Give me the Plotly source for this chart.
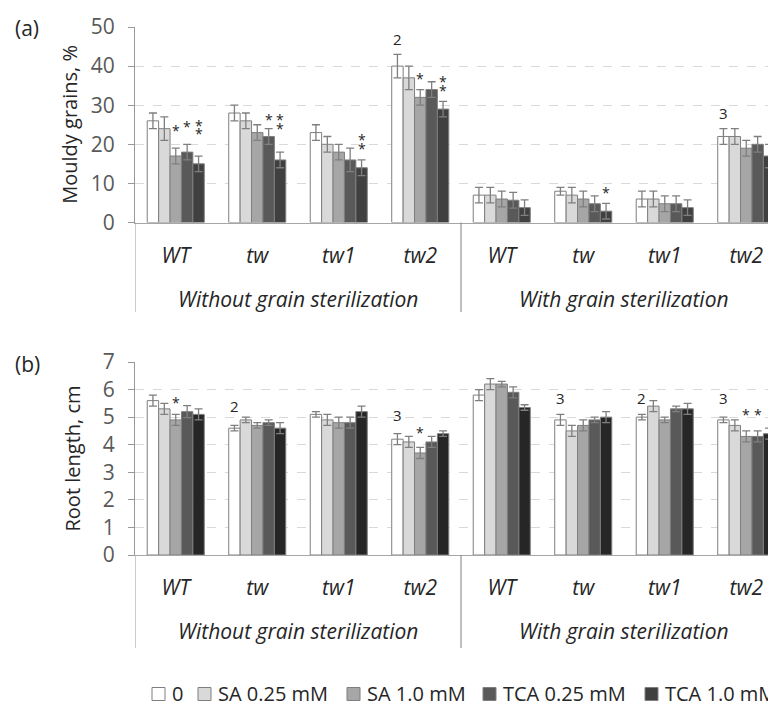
import plotly.graph_objects as go

# ---------------- data ----------------
groups = ["WT", "tw", "tw1", "tw2", "WT", "tw", "tw1", "tw2"]
group_pos = [0, 1, 2, 3, 4, 5, 6, 7]
conditions = ["Without grain sterilization", "With grain sterilization"]
condition_pos = [1.5, 5.5]
series_names = ["0", "SA 0.25 mM", "SA 1.0 mM", "TCA 0.25 mM", "TCA 1.0 mM"]

# (a) Mouldy grains, %
mould_0 = [26, 28, 23, 40, 7, 8, 6, 22]
mould_sa025 = [24, 26, 20, 37, 7, 7, 6, 22]
mould_sa10 = [17, 23, 18, 32, 6, 6, 4.8, 19]
mould_tca025 = [18, 22, 16, 34, 5.7, 4.8, 4.8, 20]
mould_tca10 = [15, 16, 14, 29, 3.8, 2.9, 3.8, 17]
mould_err_0 = [2, 2, 2, 3, 2, 1, 2, 2]
mould_err_sa025 = [3, 2, 2, 3, 2, 2, 2, 2]
mould_err_sa10 = [2, 2, 2, 2, 2, 2, 2, 2]
mould_err_tca025 = [2, 2, 3, 2, 2, 2, 2, 2]
mould_err_tca10 = [2, 2, 2, 2, 2, 2, 2, 3]

# (b) Root length, cm
root_0 = [5.6, 4.6, 5.1, 4.2, 5.8, 4.9, 5.0, 4.9]
root_sa025 = [5.3, 4.9, 4.9, 4.1, 6.2, 4.5, 5.4, 4.7]
root_sa10 = [4.9, 4.7, 4.8, 3.7, 6.2, 4.7, 4.9, 4.3]
root_tca025 = [5.2, 4.8, 4.8, 4.1, 5.9, 4.9, 5.3, 4.3]
root_tca10 = [5.1, 4.6, 5.2, 4.4, 5.35, 5.0, 5.3, 4.4]
root_err_0 = [0.2, 0.1, 0.1, 0.2, 0.2, 0.2, 0.1, 0.1]
root_err_sa025 = [0.2, 0.1, 0.2, 0.2, 0.2, 0.2, 0.2, 0.2]
root_err_sa10 = [0.2, 0.1, 0.2, 0.2, 0.1, 0.2, 0.1, 0.2]
root_err_tca025 = [0.22, 0.1, 0.2, 0.2, 0.2, 0.1, 0.1, 0.2]
root_err_tca10 = [0.2, 0.2, 0.2, 0.1, 0.1, 0.2, 0.2, 0.2]

# significance marks: (group index, series index, text, y value)
marks_a = [
    (0, 2, "*", 24.4), (0, 3, "*", 25.2), (0, 4, "*", 25.7), (0, 4, "*", 23.6),
    (1, 3, "*", 27.1), (1, 4, "*", 27.0), (1, 4, "*", 24.9),
    (2, 4, "*", 21.9), (2, 4, "*", 19.7),
    (3, 0, "2", 47.0), (3, 2, "*", 37.6), (3, 4, "*", 36.8), (3, 4, "*", 34.6),
    (5, 4, "*", 8.5), (7, 0, "3", 28.0),
]
marks_b = [
    (0, 2, "*", 5.63), (1, 0, "2", 5.39), (3, 0, "3", 5.06), (3, 2, "*", 4.54),
    (5, 0, "3", 5.71), (6, 0, "2", 5.71), (7, 0, "3", 5.71),
    (7, 2, "*", 5.21), (7, 3, "*", 5.21),
]

mould_vals = [mould_0, mould_sa025, mould_sa10, mould_tca025, mould_tca10]
mould_errs = [mould_err_0, mould_err_sa025, mould_err_sa10, mould_err_tca025, mould_err_tca10]
root_vals = [root_0, root_sa025, root_sa10, root_tca025, root_tca10]
root_errs = [root_err_0, root_err_sa025, root_err_sa10, root_err_tca025, root_err_tca10]

# ---------------- style ----------------
OFF = 8                      # default page body margin in the written html
W, H = 776 - OFF, 707 - OFF
AXIS_PX = 135                # page x of the value axis
ML = AXIS_PX - OFF
PW = W - ML
FONT = "Open Sans"
TXT = "#262626"
colors_a = ["#ffffff", "#d9d9d9", "#a6a6a6", "#595959", "#404040"]
colors_b = ["#ffffff", "#d9d9d9", "#a6a6a6", "#595959", "#262626"]
BARGAP = 0.30
bar_w = (1 - BARGAP) / 5
legend_left_px = [152, 198, 347, 483, 645]   # legend square positions (page px)
legend_y_px = 693
legend_sq = 13


def py(px):
    """page y pixel -> paper fraction"""
    return 1 - (px - OFF) / H


def pxx(px):
    """page x pixel -> paper fraction"""
    return (px - AXIS_PX) / PW


a_bot, a_top = 222.5, 27
b_bot, b_top = 555, 362

fig = go.Figure()
for i, name in enumerate(series_names):
    fig.add_trace(go.Bar(
        x=group_pos, y=mould_vals[i], name=name, xaxis="x", yaxis="y",
        marker=dict(color=colors_a[i], line=dict(color="#7f7f7f", width=1)),
        error_y=dict(type="data", array=mould_errs[i], color="#7f7f7f", thickness=1.3, width=4),
        showlegend=False,
    ))
for i, name in enumerate(series_names):
    fig.add_trace(go.Bar(
        x=group_pos, y=root_vals[i], name=name, xaxis="x2", yaxis="y2",
        marker=dict(color=colors_b[i], line=dict(color="#7f7f7f", width=1)),
        error_y=dict(type="data", array=root_errs[i], color="#7f7f7f", thickness=1.3, width=4),
        showlegend=False,
    ))

annotations = []
for marks, xr, yr in ((marks_a, "x", "y"), (marks_b, "x2", "y2")):
    for (g, s, t, yv) in marks:
        annotations.append(dict(x=g + (s - 2) * bar_w, y=yv, xref=xr, yref=yr, text=t,
                                showarrow=False, yanchor="middle",
                                yshift=-3 if t == "*" else 0,
                                font=dict(family=FONT, size=14 if t == "*" else 15, color=TXT)))

# condition labels
for xr, base in (("x", a_bot), ("x2", b_bot)):
    for c, cp in zip(conditions, condition_pos):
        annotations.append(dict(x=cp, y=py(base + 76), xref=xr, yref="paper", text=c,
                                showarrow=False, yanchor="middle",
                                font=dict(family=FONT, size=21, color=TXT, style="italic")))

# panel letters and y titles
annotations += [
    dict(x=pxx(27), y=py(28), xref="paper", yref="paper", text="(a)", showarrow=False,
         xanchor="center", yanchor="middle", font=dict(family=FONT, size=21, color=TXT)),
    dict(x=pxx(27), y=py(364), xref="paper", yref="paper", text="(b)", showarrow=False,
         xanchor="center", yanchor="middle", font=dict(family=FONT, size=21, color=TXT)),
    dict(x=pxx(70), y=py((a_bot + a_top) / 2), xref="paper", yref="paper",
         text="Mouldy grains, %", textangle=-90, showarrow=False,
         xanchor="center", yanchor="middle", font=dict(family=FONT, size=20, color=TXT)),
    dict(x=pxx(72), y=py((b_bot + b_top) / 2), xref="paper", yref="paper",
         text="Root length, cm", textangle=-90, showarrow=False,
         xanchor="center", yanchor="middle", font=dict(family=FONT, size=20, color=TXT)),
]

shapes = []
for xr, base, end in (("x", a_bot, 312), ("x2", b_bot, 648)):
    for xv in (-0.5, 3.5):
        shapes.append(dict(type="line", xref=xr, yref="paper", x0=xv, x1=xv,
                           y0=py(base), y1=py(end),
                           line=dict(color="#808080" if xv > 0 else "#999999", width=1)))

# manual legend (squares + labels)
for i, name in enumerate(series_names):
    lx = legend_left_px[i]
    shapes.append(dict(type="rect", xref="paper", yref="paper",
                       x0=pxx(lx), x1=pxx(lx + legend_sq),
                       y0=py(legend_y_px + 1 + legend_sq / 2), y1=py(legend_y_px + 1 - legend_sq / 2),
                       fillcolor=colors_a[i], line=dict(color="#7f7f7f", width=1)))
    annotations.append(dict(x=pxx(lx + legend_sq + 5), y=py(legend_y_px), xref="paper", yref="paper",
                            text=name, showarrow=False, xanchor="left", yanchor="middle",
                            font=dict(family=FONT, size=20, color=TXT)))

xcommon = dict(
    range=[-0.5, -0.5 + PW / 81.5], tickvals=group_pos, ticktext=groups,
    ticks="", showline=True, linecolor="#a6a6a6", linewidth=1, showgrid=False,
    zeroline=False, ticklabelstandoff=14,
    tickfont=dict(family=FONT, size=21, color=TXT, style="italic"),
    domain=[0, 1],
)
ycommon = dict(
    showline=True, linecolor="#999999", linewidth=1, ticks="outside", ticklen=6,
    tickcolor="#999999", showgrid=True, gridcolor="#d9d9d9", griddash="dash",
    gridwidth=1, zeroline=False, ticklabelstandoff=9,
    tickfont=dict(family=FONT, size=21, color="#595959"),
)

fig.update_layout(
    width=W, height=H,
    margin=dict(l=ML, r=0, t=0, b=0, autoexpand=False),
    paper_bgcolor="white", plot_bgcolor="white",
    barmode="group", bargap=BARGAP, bargroupgap=0,
    showlegend=False,
    xaxis=dict(anchor="y", **xcommon),
    xaxis2=dict(anchor="y2", **xcommon),
    yaxis=dict(anchor="x", domain=[py(a_bot), py(a_top)], range=[0, 50], dtick=10, **ycommon),
    yaxis2=dict(anchor="x2", domain=[py(b_bot), py(b_top)], range=[0, 7], dtick=1, **ycommon),
    annotations=annotations,
    shapes=shapes,
    font=dict(family=FONT),
)

fig.write_html("out.html")
